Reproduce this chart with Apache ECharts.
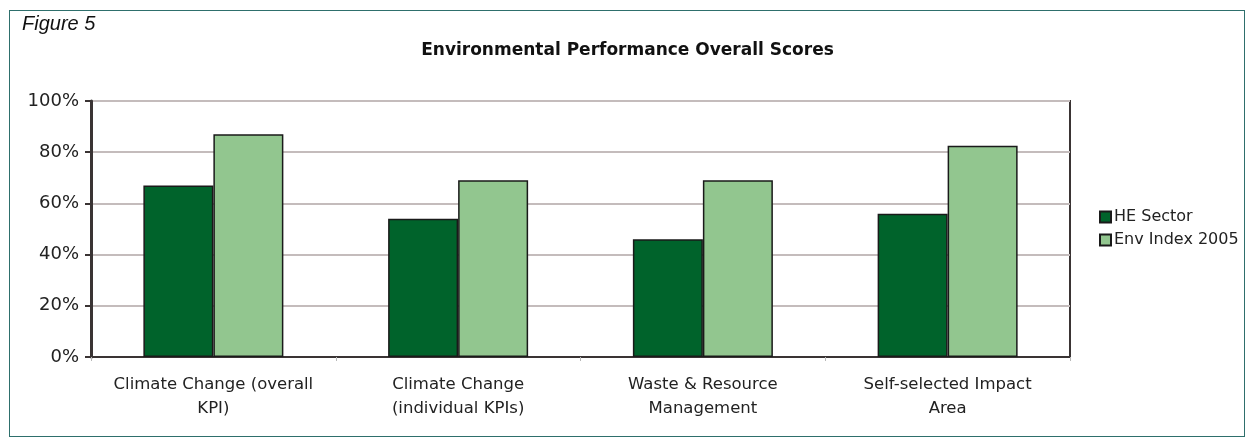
<!DOCTYPE html>
<html>
<head>
<meta charset="utf-8">
<script src="https://cdn.jsdelivr.net/npm/echarts@6/dist/echarts.min.js"></script>
<style>
  html, body { margin: 0; padding: 0; background: #fff; }
  #frame { position: absolute; left: 9px; top: 10px; width: 1234px; height: 425px; border: 1px solid #2e6f6c; }
  #chart { width: 1255px; height: 443px; }
</style>
</head>
<body>
<div id="frame"></div>
<div id="chart"></div>
<script>
// Environmental performance, figure 5
var categories = ['Climate Change (overall\nKPI)', 'Climate Change\n(individual KPIs)', 'Waste & Resource\nManagement', 'Self-selected Impact\nArea']
var heSector = [67, 54, 46, 56]
var envIndex = [87, 69, 69, 82.5]
var yTicks = [0, 20, 40, 60, 80, 100]

var chart = echarts.init(document.getElementById('chart'))
var option = {
  animation: false,
  textStyle: { fontFamily: 'DejaVu Sans, Arial, sans-serif' },
  graphic: [{
    type: 'text',
    left: 22,
    top: 14,
    style: { text: 'Figure 5', font: 'italic 20px Liberation Sans, Arial', fill: '#111' }
  }],
  title: {
    text: 'Environmental Performance Overall Scores',
    left: 'center',
    top: 37,
    textStyle: { fontSize: 17, fontWeight: 'bold', color: '#111', fontFamily: 'DejaVu Sans' }
  },
  legend: {
    orient: 'vertical',
    left: 1094,
    top: 204,
    itemWidth: 11,
    itemHeight: 11,
    itemGap: 7,
    icon: 'rect',
    textStyle: { fontSize: 16, color: '#222', padding: [0, 0, 0, -2] },
    data: ['HE Sector', 'Env Index 2005']
  },
  grid: {
    left: 91,
    right: 185,
    top: 101,
    bottom: 86,
    show: true,
    borderColor: '#3a3434',
    borderWidth: 2
  },
  xAxis: {
    type: 'category',
    data: categories,
    axisLine: { lineStyle: { color: '#3a3434', width: 2 } },
    axisTick: { show: true, length: 4, lineStyle: { color: '#b8b8b8' } },
    axisLabel: { interval: 0, fontSize: 16.5, color: '#222', lineHeight: 24, margin: 16 }
  },
  yAxis: {
    type: 'value',
    min: 0,
    max: 100,
    interval: 20,
    axisLine: { show: true, lineStyle: { color: '#3a3434', width: 3 } },
    axisTick: { show: true, length: 6, lineStyle: { color: '#3a3434', width: 2 } },
    splitLine: { lineStyle: { color: '#c4bcbc', width: 2 } },
    axisLabel: {
      fontSize: 18,
      color: '#222',
      margin: 12,
      customValues: yTicks,
      formatter: function(v) { return v + '%' }
    }
  },
  series: [
    {
      name: 'HE Sector',
      type: 'bar',
      data: heSector,
      barWidth: 70,
      barGap: '0%',
      itemStyle: { color: '#00632b', borderColor: '#1a1a1a', borderWidth: 1.5 }
    },
    {
      name: 'Env Index 2005',
      type: 'bar',
      data: envIndex,
      barWidth: 70,
      itemStyle: { color: '#92c68f', borderColor: '#1a1a1a', borderWidth: 1.5 }
    }
  ]
}
chart.setOption(option)
</script>
</body>
</html>
